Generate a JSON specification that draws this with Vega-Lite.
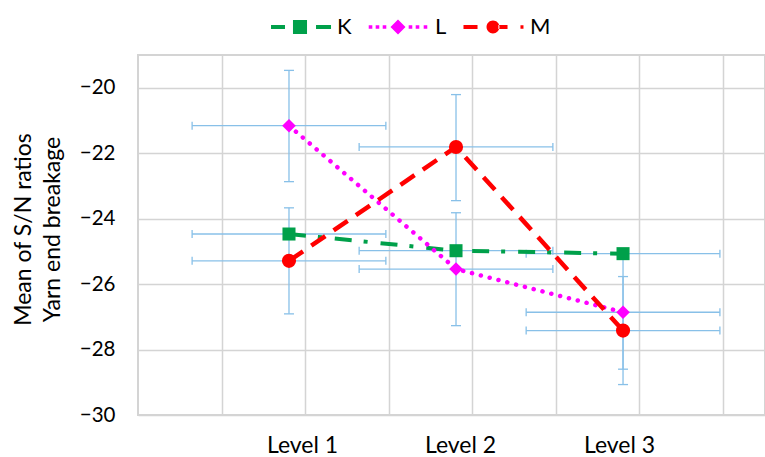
{
  "$schema": "https://vega.github.io/schema/vega-lite/v6.json",
  "autosize": {"type": "none"},
  "width": 627,
  "height": 360,
  "padding": {"left": 138, "top": 55, "right": 0, "bottom": 42},
  "background": "white",
  "config": {
    "view": {"stroke": "#D4D4D4", "strokeWidth": 2},
    "font": "Lato",
    "legend": {
      "orient": "none", "direction": "horizontal", "legendX": 151, "legendY": -39,
      "title": null,
      "labelFont": "Lato", "labelFontSize": 22, "labelColor": "#000000", "labelOffset": 26,
      "symbolSize": 144, "symbolStrokeWidth": 0, "symbolOpacity": 1, "columnPadding": 16
    }
  },
  "data": {
    "values": [
      {"series": "K", "level": 1, "value": -24.47, "xlo": 0.42, "xhi": 1.58, "ylo": null, "yhi": null},
      {"series": "K", "level": 2, "value": -24.98, "xlo": 1.42, "xhi": 2.58, "ylo": null, "yhi": null},
      {"series": "K", "level": 3, "value": -25.07, "xlo": 2.42, "xhi": 3.58, "ylo": null, "yhi": null},
      {"series": "L", "level": 1, "value": -21.16, "xlo": 0.42, "xhi": 1.58, "ylo": -22.87, "yhi": -19.47},
      {"series": "L", "level": 2, "value": -25.54, "xlo": 1.42, "xhi": 2.58, "ylo": -27.27, "yhi": -23.82},
      {"series": "L", "level": 3, "value": -26.86, "xlo": 2.42, "xhi": 3.58, "ylo": -28.6, "yhi": -25.12},
      {"series": "M", "level": 1, "value": -25.29, "xlo": 0.42, "xhi": 1.58, "ylo": -26.91, "yhi": -23.67},
      {"series": "M", "level": 2, "value": -21.81, "xlo": 1.42, "xhi": 2.58, "ylo": -23.45, "yhi": -20.21},
      {"series": "M", "level": 3, "value": -27.42, "xlo": 2.42, "xhi": 3.58, "ylo": -29.07, "yhi": -25.77}
    ]
  },
  "resolve": {"scale": {"color": "independent", "shape": "independent", "size": "independent"}},
  "layer": [
    {
      "mark": {"type": "rule", "color": "#88C0E8", "strokeWidth": 1.3},
      "encoding": {
        "x": {"field": "xlo", "type": "quantitative",
          "scale": {"domain": [0.096, 3.85], "nice": false, "zero": false},
          "axis": {
            "values": [0.596, 1.078, 1.096, 1.596, 2.024, 2.096, 2.596, 2.976, 3.096, 3.596],
            "grid": true, "gridColor": "#D4D4D4", "gridWidth": 1.5,
            "gridOpacity": {"condition": {"test": "datum.value == 1.078 || datum.value == 2.024 || datum.value == 2.976", "value": 0}, "value": 1},
            "labelExpr": "datum.value == 1.078 ? 'Level 1' : datum.value == 2.024 ? 'Level 2' : datum.value == 2.976 ? 'Level 3' : ''",
            "labelOverlap": false, "labelFlush": false, "labelBound": false,
            "ticks": false, "domain": false, "title": null,
            "labelFont": "Lato", "labelFontSize": 23, "labelColor": "#000000", "labelPadding": 19
          }},
        "x2": {"field": "xhi"},
        "y": {"field": "value", "type": "quantitative",
          "scale": {"domain": [-30, -19], "nice": false, "zero": false},
          "axis": {
            "values": [-30, -28, -26, -24, -22, -20],
            "grid": true, "gridColor": "#D4D4D4", "gridWidth": 1.5,
            "ticks": false, "domain": false,
            "labelFont": "Lato", "labelFontSize": 20.5, "labelColor": "#000000", "labelPadding": 23,
            "title": ["Mean of S/N ratios", "Yarn end breakage"],
            "titleFont": "Lato", "titleFontSize": 23, "titleFontWeight": "normal", "titleColor": "#000000",
            "titleLineHeight": 29, "titleAngle": -90, "titleX": -126, "titleY": 174,
            "titleAlign": "center", "titleBaseline": "top"
          }}
      }
    },
    {
      "mark": {"type": "tick", "orient": "vertical", "color": "#88C0E8", "thickness": 1.3, "size": 8, "opacity": 1},
      "encoding": {
        "x": {"field": "xlo", "type": "quantitative"},
        "y": {"field": "value", "type": "quantitative"}
      }
    },
    {
      "mark": {"type": "tick", "orient": "vertical", "color": "#88C0E8", "thickness": 1.3, "size": 8, "opacity": 1},
      "encoding": {
        "x": {"field": "xhi", "type": "quantitative"},
        "y": {"field": "value", "type": "quantitative"}
      }
    },
    {
      "transform": [{"filter": "datum.ylo != null"}],
      "mark": {"type": "rule", "color": "#88C0E8", "strokeWidth": 1.3},
      "encoding": {
        "x": {"field": "level", "type": "quantitative"},
        "y": {"field": "ylo", "type": "quantitative"},
        "y2": {"field": "yhi"}
      }
    },
    {
      "transform": [{"filter": "datum.ylo != null"}],
      "mark": {"type": "tick", "orient": "horizontal", "color": "#88C0E8", "thickness": 1.3, "size": 10, "opacity": 1},
      "encoding": {
        "x": {"field": "level", "type": "quantitative"},
        "y": {"field": "ylo", "type": "quantitative"}
      }
    },
    {
      "transform": [{"filter": "datum.ylo != null"}],
      "mark": {"type": "tick", "orient": "horizontal", "color": "#88C0E8", "thickness": 1.3, "size": 10, "opacity": 1},
      "encoding": {
        "x": {"field": "level", "type": "quantitative"},
        "y": {"field": "yhi", "type": "quantitative"}
      }
    },
    {
      "transform": [{"filter": "datum.series == 'K'"}],
      "mark": {"type": "line", "color": "#00A04A", "strokeWidth": 4, "strokeDash": [17, 12, 4, 13]},
      "encoding": {
        "x": {"field": "level", "type": "quantitative"},
        "y": {"field": "value", "type": "quantitative"}
      }
    },
    {
      "transform": [{"filter": "datum.series == 'L'"}],
      "mark": {"type": "line", "color": "#FF00FF", "strokeWidth": 4.5, "strokeCap": "round", "strokeDash": [0.1, 9]},
      "encoding": {
        "x": {"field": "level", "type": "quantitative"},
        "y": {"field": "value", "type": "quantitative"}
      }
    },
    {
      "transform": [{"filter": "datum.series == 'M'"}],
      "mark": {"type": "line", "color": "#FF0000", "strokeWidth": 4.5, "strokeDash": [17, 10]},
      "encoding": {
        "x": {"field": "level", "type": "quantitative"},
        "y": {"field": "value", "type": "quantitative"}
      }
    },
    {
      "mark": {"type": "point", "filled": true, "opacity": 1, "strokeWidth": 0},
      "encoding": {
        "x": {"field": "level", "type": "quantitative"},
        "y": {"field": "value", "type": "quantitative"},
        "color": {"field": "series", "type": "nominal",
          "scale": {"domain": ["K", "L", "M"], "range": ["#00A04A", "#FF00FF", "#FF0000"]},
          "legend": null},
        "shape": {"field": "series", "type": "nominal",
          "scale": {"domain": ["K", "L", "M"], "range": ["square", "diamond", "circle"]}, "legend": null},
        "size": {"field": "series", "type": "nominal",
          "scale": {"domain": ["K", "L", "M"], "range": [170, 200, 133]}, "legend": null}
      }
    },
    {
      "mark": {"type": "point", "filled": true, "opacity": 0, "size": 144, "strokeWidth": 0},
      "encoding": {
        "x": {"field": "level", "type": "quantitative"},
        "y": {"field": "value", "type": "quantitative"},
        "color": {"field": "series", "type": "nominal",
          "scale": {"domain": ["K", "L", "M"], "range": ["#00A04A", "#FF00FF", "#FF0000"]},
          "legend": {}},
        "shape": {"field": "series", "type": "nominal",
          "scale": {"domain": ["K", "L", "M"], "range": [
            "M-4.83,-0.33H-2.5V0.33H-4.83Z M-1.17,-1.17H1.17V1.17H-1.17Z M2.67,-0.33H5.17V0.33H2.67Z",
            "M-4.88,-0.3H-4.28V0.3H-4.88Z M-3.72,-0.3H-3.12V0.3H-3.72Z M-2.55,-0.3H-1.95V0.3H-2.55Z M0,-1.25L1.25,0L0,1.25L-1.25,0Z M1.78,-0.3H2.38V0.3H1.78Z M2.95,-0.3H3.55V0.3H2.95Z M4.28,-0.3H4.88V0.3H4.28Z",
            "M-4.92,-0.33H-2.58V0.33H-4.92Z M-1.08,0A1.08,1.08 0 1,0 1.08,0A1.08,1.08 0 1,0 -1.08,0Z M0.9,-0.33H2.42V0.33H0.9Z M4.58,-0.3H5.08V0.3H4.58Z"
          ]},
          "legend": {}}
      }
    }
  ]
}
